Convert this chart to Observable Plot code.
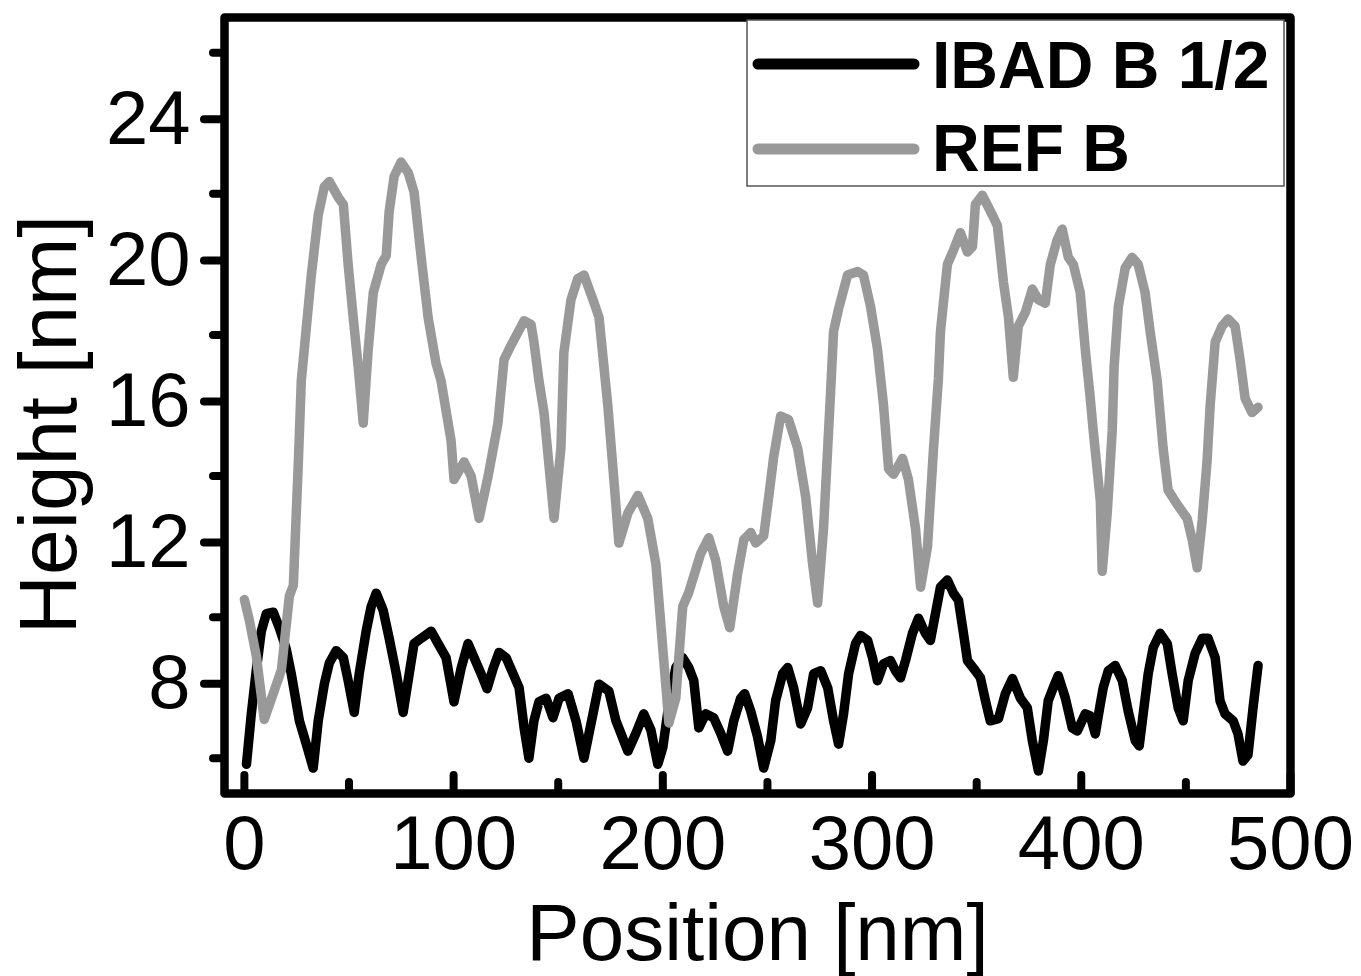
<!DOCTYPE html>
<html>
<head>
<meta charset="utf-8">
<script src="https://cdn.jsdelivr.net/npm/d3@7"></script>
<script src="https://cdn.jsdelivr.net/npm/@observablehq/plot@0.6"></script>
<style>
  html, body { margin: 0; padding: 0; background: #fff; }
  #wrap { position: relative; width: 1361px; height: 976px; }
  #legend { position: absolute; left: 0; top: 0; pointer-events: none; }
  text { font-family: "Liberation Sans", Arial, sans-serif; }
</style>
</head>
<body>
<div id="wrap"></div>
<script>
// ---- data ----
const seriesNames = ["IBAD B 1/2", "REF B"];
const seriesColors = ["#000000", "#999999"];

const ibadX = [1.0,3.3,5.7,8.1,10.5,13.8,16.7,20.0,22.4,26.3,29.6,32.9,35.3,38.2,40.6,43.9,47.3,49.6,52.5,54.9,58.2,60.6,63.0,66.3,69.2,72.6,75.9,78.8,81.1,84.5,89.3,92.6,96.4,100.2,103.6,106.9,109.8,113.1,116.0,118.9,121.7,125.1,128.4,131.3,133.7,136.0,138.4,140.8,144.2,147.5,150.4,154.7,158.5,162.3,166.6,169.5,174.2,177.6,183.3,187.1,190.9,194.3,197.6,200.0,202.9,206.2,209.5,212.4,214.8,217.2,220.5,224.3,227.7,231.0,233.9,237.2,239.1,242.0,245.3,248.2,251.6,253.9,257.3,259.7,262.5,265.9,269.2,272.1,275.5,278.8,281.6,284.0,286.4,288.8,292.1,294.5,297.9,300.2,302.6,305.5,308.8,311.2,313.6,316.0,319.3,322.2,325.5,327.9,330.3,332.7,336.0,338.9,341.3,343.7,345.6,349.4,351.8,354.2,356.5,360.4,363.7,367.1,370.9,374.2,376.6,379.5,381.9,384.2,386.6,389.0,392.4,395.7,398.1,401.9,404.3,406.7,409.1,410.5,412.9,416.2,419.6,422.4,425.8,427.7,429.6,432.0,434.4,437.7,441.1,443.4,446.3,448.7,451.1,454.4,457.8,460.6,464.0,466.3,468.7,472.6,474.9,477.3,479.7,482.1,484.5];
const ibadY = [5.83,7.25,8.5,9.6,10.1,10.14,9.7,9.1,8.4,7.06,6.4,5.72,7.06,8.1,8.7,9.05,8.85,8.2,7.3,8.4,9.6,10.3,10.68,10.2,9.4,8.4,7.3,8.4,9.25,9.4,9.6,9.25,8.85,7.6,8.55,9.25,8.85,8.4,7.97,8.55,9.0,8.85,8.4,8.0,6.86,6.0,7.06,7.6,7.7,7.15,7.7,7.83,7.06,6.0,7.25,8.1,7.9,7.06,6.2,6.7,7.26,6.8,5.83,6.3,7.54,8.57,8.85,8.57,8.2,6.86,7.26,7.15,6.7,6.2,7.06,7.7,7.83,7.34,6.6,5.72,6.5,7.63,8.4,8.57,8.0,6.97,7.43,8.4,8.48,8.0,7.06,6.4,7.26,8.4,9.25,9.48,9.34,8.85,8.2,8.68,8.77,8.48,8.28,8.77,9.54,9.97,9.54,9.34,10.1,10.85,11.05,10.68,10.48,9.54,8.77,8.48,8.28,7.63,7.06,7.12,7.83,8.26,7.7,7.43,6.5,5.64,6.5,7.63,8.0,8.34,7.7,6.86,6.77,7.26,7.2,6.69,7.54,8.0,8.48,8.63,8.2,7.34,6.5,6.35,7.26,8.4,9.14,9.54,9.25,8.4,7.43,7.06,8.2,8.97,9.4,9.4,8.85,7.63,7.26,7.06,6.69,5.92,6.1,7.43,8.63];

const refX = [0,2.4,5.7,9.5,17.7,21.5,23.4,25.8,27.2,32.0,35.3,38.2,40.6,44.9,47.3,49.6,52.0,54.4,56.8,59.2,61.6,65.4,67.8,69.2,71.6,74.9,78.3,81.1,84.5,87.8,91.6,94.0,98.8,100.2,105.0,108.4,112.2,116.5,121.2,124.1,127.4,133.7,137.0,138.4,140.8,143.2,148.0,151.3,152.7,156.1,159.4,162.3,166.6,169.5,173.7,176.6,179.0,183.3,188.1,192.8,196.7,200.0,202.9,206.2,209.5,212.4,218.1,222.0,225.3,229.1,232.0,235.8,238.7,242.0,244.4,248.2,250.6,253.0,256.3,260.1,264.4,268.3,271.6,274.0,276.8,280.2,281.6,284.0,288.3,293.1,295.9,299.3,302.6,305.5,307.9,310.3,314.6,317.4,320.8,323.2,326.5,329.4,331.7,332.7,336.0,338.9,342.2,345.6,348.0,349.4,352.7,357.5,359.9,362.8,365.2,367.5,369.9,373.3,376.6,379.5,382.8,385.2,388.5,390.9,393.8,396.2,399.5,401.9,404.3,405.7,409.1,410.0,412.4,414.8,415.7,417.7,421.0,424.3,427.2,430.5,432.9,436.3,439.1,441.5,445.8,450.6,453.0,455.4,457.8,460.1,461.6,464.0,467.3,470.2,473.5,475.9,478.3,481.6,484.5];
const refY = [10.5,9.9,8.9,7.1,8.5,10.6,10.9,14.4,16.7,19.7,21.4,22.2,22.35,21.9,21.7,20.0,18.5,17.1,15.5,17.6,19.2,20.0,20.25,21.5,22.5,22.9,22.6,22.05,20.2,18.5,17.2,16.7,15.0,13.9,14.4,14.0,12.8,14.0,15.5,17.3,17.7,18.4,18.3,17.8,16.7,15.8,12.8,14.8,17.5,19.0,19.6,19.7,19.0,18.5,16.0,13.9,12.1,12.95,13.45,12.8,11.5,9.1,7.0,7.7,10.3,10.7,11.8,12.25,11.6,10.3,9.7,11.25,12.2,12.4,12.1,12.3,13.4,14.55,15.7,15.6,14.8,13.4,11.5,10.4,12.5,16.4,18.1,18.74,19.7,19.8,19.7,18.8,17.6,16.0,14.2,14.05,14.5,13.9,12.5,10.85,12.0,14.8,16.75,18.1,20.0,20.4,20.9,20.35,20.5,21.7,21.96,21.4,21.1,19.5,18.5,16.8,18.25,18.65,19.3,19.0,18.9,20.0,20.7,21.0,20.2,20.0,19.2,17.6,16.2,15.3,13.3,11.3,12.95,15.3,17.1,18.8,19.9,20.2,20.0,19.2,18.1,16.7,14.8,13.6,13.2,12.8,12.2,11.4,12.75,14.4,16.0,17.8,18.25,18.45,18.25,17.3,16.2,15.8,15.95];

const xMajorTicks = [0, 100, 200, 300, 400, 500];
const xMinorTicks = [50, 150, 250, 350, 450];
const yMajorTicks = [8, 12, 16, 20, 24];
const yMinorTicks = [6, 10, 14, 18, 22, 26];
const xTitle = "Position [nm]";
const yTitle = "Height [nm]";

// ---- build tables ----
const ibad = ibadX.map((x, i) => ({x, y: ibadY[i]}));
const ref = refX.map((x, i) => ({x, y: refY[i]}));

const W = 1361, H = 976;
const mL = 224, mR = 71, mT = 17, mB = 183;
const plotH = H - mT - mB;
const font = "Liberation Sans, Arial, Helvetica, sans-serif";

const chart = Plot.plot({
  width: W, height: H,
  marginLeft: mL, marginRight: mR, marginTop: mT, marginBottom: mB,
  style: {fontFamily: font, background: "white", color: "black", overflow: "visible"},
  x: {domain: [-9.5, 500]},
  y: {domain: [5, 27]},
  marks: [
    Plot.line(ibad, {x: "x", y: "y", stroke: seriesColors[0], strokeWidth: 9.5, strokeLinejoin: "round", strokeLinecap: "round"}),
    Plot.line(ref, {x: "x", y: "y", stroke: seriesColors[1], strokeWidth: 9.5, strokeLinejoin: "round", strokeLinecap: "round"}),
    Plot.tickX(xMajorTicks, {x: d => d, stroke: "black", strokeWidth: 8, strokeLinecap: "round", insetTop: plotH - 18}),
    Plot.tickX(xMinorTicks, {x: d => d, stroke: "black", strokeWidth: 8, strokeLinecap: "round", insetTop: plotH - 11}),
    Plot.axisY(yMajorTicks, {tickSize: 20, tickPadding: 14, strokeWidth: 8, strokeLinecap: "round", fontSize: 76, dy: -4, label: null, tickFormat: d => String(d)}),
    Plot.axisY(yMinorTicks, {tickSize: 11, strokeWidth: 8, strokeLinecap: "round", text: null, label: null}),
    Plot.axisX(xMajorTicks, {tickSize: 0, tickPadding: 22, fontSize: 76, label: null, tickFormat: d => String(d)}),
    Plot.frame({stroke: "black", strokeWidth: 8.5, strokeLinejoin: "round"}),
    Plot.text([xTitle], {text: d => d, frameAnchor: "bottom", textAnchor: "middle", lineAnchor: "top", dy: 110, fontSize: 80, fill: "black"}),
    Plot.text([yTitle], {text: d => d, frameAnchor: "left", textAnchor: "middle", rotate: -90, lineAnchor: "top", dx: -207, dy: 19, fontSize: 82, fill: "black"})
  ]
});

const wrap = document.getElementById("wrap");
wrap.appendChild(chart);

// ---- legend overlay ----
const ns = "http://www.w3.org/2000/svg";
const lg = document.createElementNS(ns, "svg");
lg.setAttribute("id", "legend");
lg.setAttribute("width", W);
lg.setAttribute("height", H);
const box = document.createElementNS(ns, "rect");
box.setAttribute("x", 747); box.setAttribute("y", 20);
box.setAttribute("width", 537); box.setAttribute("height", 166);
box.setAttribute("fill", "white"); box.setAttribute("stroke", "#555");
box.setAttribute("stroke-width", 1.5);
lg.appendChild(box);
const rowY = [64, 149];
const baseY = [88, 171];
seriesNames.forEach((name, i) => {
  const ln = document.createElementNS(ns, "line");
  ln.setAttribute("x1", 758); ln.setAttribute("x2", 914);
  ln.setAttribute("y1", rowY[i]); ln.setAttribute("y2", rowY[i]);
  ln.setAttribute("stroke", seriesColors[i]);
  ln.setAttribute("stroke-width", 11);
  ln.setAttribute("stroke-linecap", "round");
  lg.appendChild(ln);
  const t = document.createElementNS(ns, "text");
  t.setAttribute("x", 932); t.setAttribute("y", baseY[i]);
  t.setAttribute("font-size", 66); t.setAttribute("font-weight", "bold");
  t.setAttribute("fill", "black");
  t.textContent = name;
  lg.appendChild(t);
});
wrap.appendChild(lg);
</script>
</body>
</html>
